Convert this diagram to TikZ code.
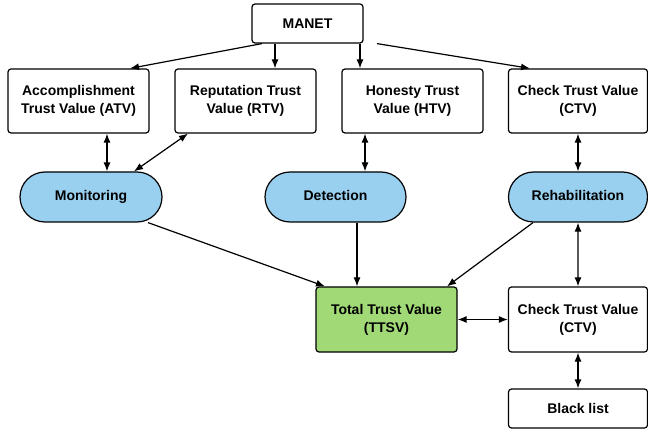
\documentclass[tikz,border=0pt]{standalone}
\usepackage{fontspec}
\setmainfont{Liberation Sans}
\usetikzlibrary{arrows.meta,shapes.misc}
\definecolor{stepblue}{RGB}{153,208,240}
\definecolor{totalgreen}{RGB}{161,217,119}
\tikzset{
  valbox/.style={draw, line width=1.2pt, rounded corners=3pt, fill=white, inner sep=0pt,
    minimum width=141pt, minimum height=64pt, align=center,
    font=\bfseries\fontsize{14}{18}\selectfont},
  pill/.style={draw, line width=1.2pt, fill=stepblue, rounded rectangle, inner sep=0pt,
    minimum width=141pt, minimum height=50pt, text height=10pt, text depth=3pt,
    font=\bfseries\fontsize{14}{18}\selectfont},
  arr/.style={-{Latex[length=9pt,width=7pt]}, line width=1.2pt},
  darr/.style={{Latex[length=9pt,width=7pt]}-{Latex[length=9pt,width=7pt]}, line width=1.2pt}
}
\begin{document}
\begin{tikzpicture}[x=1pt,y=-1pt]
\useasboundingbox (0,0) rectangle (648,430);
\node[valbox, minimum width=111pt, minimum height=39pt] (manet) at (307.5,23.5) {MANET};
\node[valbox] (atv) at (78.5,101) {Accomplishment\\Trust Value (ATV)};
\node[valbox] (rtv) at (245.5,101) {Reputation Trust\\Value (RTV)};
\node[valbox] (htv) at (412.5,101) {Honesty Trust\\Value (HTV)};
\node[valbox, minimum width=139pt] (ctv) at (578,101) {Check Trust Value\\(CTV)};
\node[pill, minimum width=142pt] (mon) at (91,197) {Monitoring};
\node[pill] (det) at (335.5,197) {Detection};
\node[pill, minimum width=139pt] (reh) at (578,197) {Rehabilitation};
\node[valbox, fill=totalgreen, minimum height=65pt] (ttsv) at (386.5,319.5) {Total Trust Value\\(TTSV)};
\node[valbox, minimum width=139pt, minimum height=65pt] (ctvb) at (578,319.5) {Check Trust Value\\(CTV)};
\node[valbox, minimum width=139pt, minimum height=39pt] (black) at (578,408.5) {Black list};
% from MANET
\draw[arr] ([xshift=-45.5pt]manet.south) -- ([xshift=51.5pt]atv.north);
\draw[arr] ([xshift=-32.5pt]manet.south) -- ([xshift=29.5pt]rtv.north);
\draw[arr] ([xshift=52.5pt]manet.south) -- ([xshift=-52.5pt]htv.north);
\draw[arr] ([xshift=69.5pt]manet.south) -- ([xshift=-48pt]ctv.north);
% values and steps
\draw[darr] ([xshift=28.5pt]atv.south) -- ([xshift=16pt]mon.north);
\draw[darr] ([xshift=-57.5pt]rtv.south) -- ([xshift=43pt]mon.north);
\draw[darr] ([xshift=-47.5pt]htv.south) -- ([xshift=29.5pt]det.north);
\draw[darr] (ctv) -- (reh);
% to total
\draw[arr] ([xshift=57pt]mon.south) -- ([xshift=-61.5pt]ttsv.north);
\draw[arr] ([xshift=21.5pt]det.south) -- ([xshift=-29.5pt]ttsv.north);
\draw[arr] ([xshift=-45pt]reh.south) -- ([xshift=60.5pt]ttsv.north);
\draw[darr] (ttsv) -- (ctvb);
\draw[darr] (reh) -- (ctvb);
\draw[darr] (ctvb) -- (black);
\end{tikzpicture}
\end{document}
